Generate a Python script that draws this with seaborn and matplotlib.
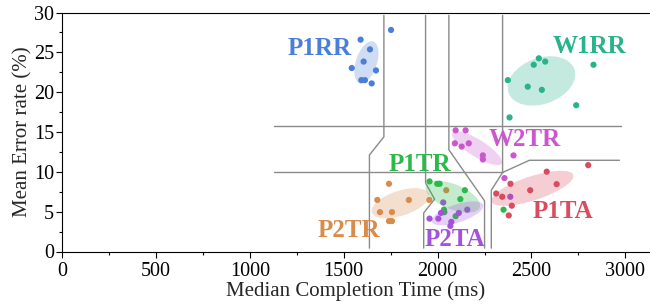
import numpy as np
import pandas as pd
import matplotlib
import matplotlib.pyplot as plt
import matplotlib.transforms as mtransforms
from matplotlib.patches import Ellipse
from matplotlib.ticker import MultipleLocator
import seaborn as sns

# --- data ---
groups = ["P1RR", "W1RR", "W2TR", "P1TR", "P2TR", "P2TA", "P1TA"]
colors = ["#4a7fd9", "#27b38b", "#cc55d0", "#2cb84a", "#d98b4b", "#a452dc", "#d94b5e"]

p1rr_x = [1590, 1640, 1606, 1543, 1672, 1594, 1613, 1649, 1752]
p1rr_y = [26.59, 25.37, 23.84, 23.03, 22.73, 21.51, 21.51, 21.10, 27.81]
w1rr_x = [2539, 2512, 2573, 2830, 2374, 2480, 2555, 2738, 2383]
w1rr_y = [24.25, 23.44, 23.84, 23.44, 21.51, 20.69, 20.29, 18.36, 16.83]
w2tr_x = [2096, 2149, 2092, 2128, 2166, 2241, 2241, 2404, 2356]
w2tr_y = [15.21, 15.21, 13.58, 13.17, 13.58, 12.06, 11.55, 12.06, 9.21]
p1tr_x = [1957, 1998, 2011, 2145, 2121, 2034, 2036, 2096, 2351]
p1tr_y = [8.80, 8.50, 8.50, 7.69, 6.57, 5.25, 4.94, 4.43, 5.25]
p2tr_x = [1741, 1679, 1847, 1956, 1693, 1757, 1741, 1757, 2046]
p2tr_y = [8.50, 6.47, 6.47, 6.47, 4.94, 4.94, 3.82, 3.82, 7.69]
p2ta_x = [2030, 2018, 2113, 2158, 1957, 2004, 2073, 2068, 2387]
p2ta_y = [6.16, 4.84, 4.84, 5.25, 4.13, 4.13, 3.72, 3.21, 6.87]
p1ta_x = [2581, 2634, 2388, 2493, 2312, 2344, 2395, 2379, 2802]
p1ta_y = [10.02, 8.45, 8.50, 7.69, 7.28, 6.87, 5.75, 4.53, 10.84]

# ellipse centres (data units)
ell_cx = [1621, 2553, 2210, 2081, 1802, 2106, 2505]
ell_cy = [23.74, 21.41, 12.97, 6.87, 6.06, 4.79, 7.93]

# group label anchors (data units)
lab_x = [1372, 2809, 2463, 1907, 1527, 2090, 2665]
lab_y = [25.45, 25.75, 14.07, 10.92, 2.6, 1.48, 5.03]

# region borders (data units)
borders = [
    ([1128, 2979], [15.71, 15.71]),
    ([1128, 2346], [9.92, 9.92]),
    ([1714, 1714, 1637, 1637], [29.64, 14.39, 12.11, 0.42]),
    ([1936, 1936, 1984, 1926, 1926], [29.64, 8.6, 6.57, 4.84, 0.42]),
    ([2060, 2060, 2250, 2250], [29.64, 12.77, 6.36, 0.42]),
    ([2346, 2346, 2286, 2286], [29.64, 9.92, 7.69, 0.42]),
    ([2346, 2489, 2968], [9.92, 11.45, 11.45]),
]

xs = [p1rr_x, w1rr_x, w2tr_x, p1tr_x, p2tr_x, p2ta_x, p1ta_x]
ys = [p1rr_y, w1rr_y, w2tr_y, p1tr_y, p2tr_y, p2ta_y, p1ta_y]
df = pd.concat(
    [pd.DataFrame({"time": x, "err": y, "cond": g}) for g, x, y in zip(groups, xs, ys)],
    ignore_index=True,
)

# ellipse shapes in pixels
ell_w = [44, 70, 58, 58, 60, 54, 86]
ell_h = [21, 46, 17, 25, 25, 18, 24]
ell_ang = [72, 20, -32, -22, 18, 18, 18]

sns.set_theme(style="ticks")
plt.rcParams["font.family"] = ["Liberation Serif", "DejaVu Serif"]
plt.rcParams["axes.unicode_minus"] = False

fig = plt.figure(figsize=(6.5, 3.06), dpi=100)
ax = fig.add_axes([62 / 650, 1 - 251.5 / 306, 588 / 650, 239 / 306])

for bx, by in borders:
    ax.plot(bx, by, color="#8a8a8a", lw=1.0, zorder=1)

sns.scatterplot(
    data=df, x="time", y="err", hue="cond", hue_order=groups,
    palette=colors, s=20, linewidth=0, legend=False, ax=ax, zorder=2,
)

for cx, cy, w, h, a, c in zip(ell_cx, ell_cy, ell_w, ell_h, ell_ang, colors):
    trans = mtransforms.Affine2D() + mtransforms.ScaledTranslation(cx, cy, ax.transData)
    ax.add_patch(Ellipse((0, 0), w, h, angle=a, transform=trans,
                         facecolor=c, edgecolor="none", alpha=0.27, zorder=3))

for g, tx, ty, c in zip(groups, lab_x, lab_y, colors):
    ax.text(tx, ty, g, color=c, fontsize=18, fontweight="bold",
            ha="center", va="center", zorder=4)

ax.set_xlim(0, 3131)
ax.set_ylim(0, 30)
ax.xaxis.set_major_locator(MultipleLocator(500))
ax.xaxis.set_minor_locator(MultipleLocator(250))
ax.yaxis.set_major_locator(MultipleLocator(5))
ax.yaxis.set_minor_locator(MultipleLocator(2.5))
ax.tick_params(which="major", direction="out", length=4.3, width=0.8,
               labelsize=14.5, color="black", labelcolor="black", pad=1.5)
ax.tick_params(axis="x", which="major", pad=3.5)
ax.tick_params(which="minor", direction="out", length=2.3, width=0.8, color="black")
ax.spines["right"].set_visible(False)
for s in ax.spines.values():
    s.set_color("black")
    s.set_linewidth(0.8)
ax.set_xlabel("Median Completion Time (ms)", fontsize=15, labelpad=0)
ax.set_ylabel("Mean Error rate (%)", fontsize=15, labelpad=1)

fig.savefig("out.png", dpi=100)
